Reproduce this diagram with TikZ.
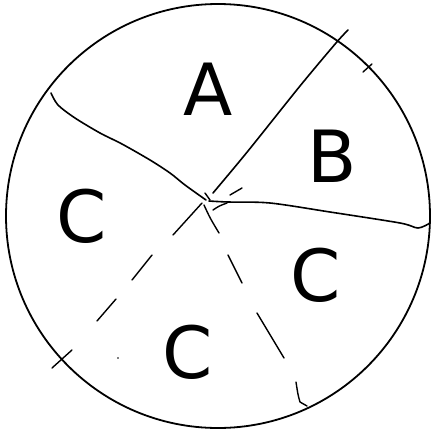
\documentclass[tikz,border=0pt]{standalone}
\usepackage{fontspec}
\setmainfont{DejaVu Sans}
\begin{document}
\begin{tikzpicture}[x=1pt,y=-1pt,
  ink/.style={line width=1.6pt,line cap=round,line join=round},
  thinink/.style={line width=1.4pt,line cap=round,line join=round},
  letter/.style={inner sep=0pt,font=\fontsize{72}{72}\selectfont}]
\useasboundingbox (0,0) rectangle (431,432);
\coordinate (O) at (208,201);
\coordinate (C0) at (218,216);
% outer circle
\draw[line width=1.8pt] (C0) circle (212pt);
% solid boundaries
\draw[ink] plot[smooth] coordinates {(51,93) (58,105) (75,118) (100,133) (122,144) (150,160) (170,173) (185,185) (206,200)};
\draw[ink] plot[smooth] coordinates {(213,193) (248,151) (300,86) (336,43) (348,30)};
\draw[ink] plot[smooth] coordinates {(209,201) (228,202) (270,203) (330,212) (400,223) (418,228) (430,223)};
% small strokes at the centre
\draw[thinink] (205,193) -- (210,200);
\draw[thinink] (213,210) .. controls (219,206) .. (227,203);
\draw[thinink] (230,195) -- (242,188);
% dashed boundary, lower left
\draw[thinink] (202,203) -- (173,235);
\draw[thinink] (152,255) -- (132,280);
\draw[thinink] (116,299) -- (97,321);
\draw[thinink] (52,368) -- (72,350);
\fill (118,358) circle (0.8pt);
% dashed boundary, lower right
\draw[thinink] (204,205) .. controls (210,218) .. (219,233);
\draw[thinink] (228,255) -- (242,283);
\draw[thinink] (257,313) -- (284,358);
\draw[thinink] (296,382) .. controls (298,395) .. (300,402) -- (307,406);
% tick upper right
\draw[thinink] (363,72) -- (372,64);
% labels
\node[letter] (A) at (208,89) {A};
\node[letter] (B) at (332,156) {B};
\node[letter] (Cl) at (82,216) {C};
\node[letter] (Cr) at (316,275) {C};
\node[letter] (Cb) at (188,352) {C};
\end{tikzpicture}
\end{document}
